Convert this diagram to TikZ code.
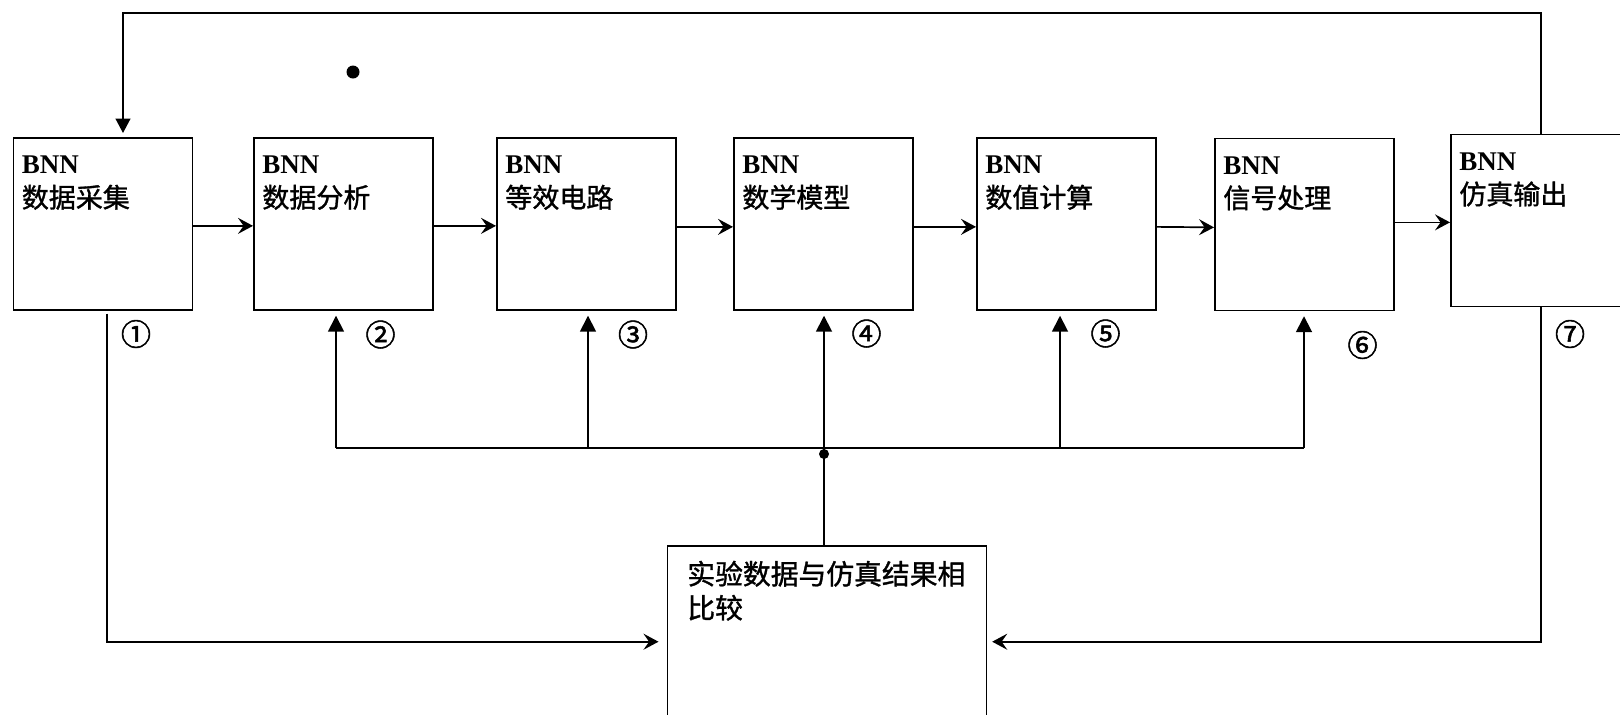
\documentclass[tikz,border=0pt]{standalone}
\usepackage{fontspec}
\setmainfont{Liberation Serif}
\newfontfamily\cjk[FakeBold=1.2]{Noto Sans CJK SC}
\newfontfamily\cjknum[FakeBold=1.8]{Noto Sans CJK SC}
\usetikzlibrary{arrows.meta}
\newcommand\bxt[3]{\parbox[c][#2][t]{#1}{\leftskip=4.25pt\rule{0pt}{17.85pt}#3}}
\newcommand\bxb[3]{\parbox[c][#2][t]{#1}{\leftskip=10pt\rule{0pt}{19.25pt}#3}}
\tikzset{
  ln/.style={line width=0.85pt},
  bx/.style={draw,line width=0.85pt,inner sep=0pt,anchor=north west,fill=white,
    font=\fontsize{13.5pt}{17pt}\selectfont},
  num/.style={inner sep=0pt,font=\cjknum\fontsize{15pt}{17pt}\selectfont},
  harr/.style={ln,-{Stealth[length=7.5pt,width=8pt,inset=2.8pt]}},
  uarr/.style={ln,-{Triangle[length=8pt,width=8pt]}},
  darr/.style={ln,-{Triangle[length=7.2pt,width=7.4pt]}},
  dotn/.style={circle,fill=black,inner sep=0pt},
}
\begin{document}
\begin{tikzpicture}[x=0.5pt,y=-0.5pt]
\useasboundingbox (0,0) rectangle (1620,714);
\fill[white] (0,0) rectangle (1620,714);

% boxes
\node[bx] (b1) at (12.5,137) {\bxt{89.5pt}{86pt}{\textbf{BNN}\\{\cjk 数据采集}}};
\node[bx] (b2) at (253,137) {\bxt{89.5pt}{86pt}{\textbf{BNN}\\{\cjk 数据分析}}};
\node[bx] (b3) at (496,137) {\bxt{89.5pt}{86pt}{\textbf{BNN}\\{\cjk 等效电路}}};
\node[bx] (b4) at (733,137) {\bxt{89.5pt}{86pt}{\textbf{BNN}\\{\cjk 数学模型}}};
\node[bx] (b5) at (976,137) {\bxt{89.5pt}{86pt}{\textbf{BNN}\\{\cjk 数值计算}}};
\node[bx] (b6) at (1214,137.5) {\bxt{89.5pt}{86pt}{\textbf{BNN}\\{\cjk 信号处理}}};
\node[bx] (b7) at (1450,133.7) {\bxt{89.5pt}{86pt}{\textbf{BNN}\\{\cjk 仿真输出}}};
\node[bx,font=\fontsize{13.9pt}{17pt}\selectfont] (b8) at (666.5,545) {\bxb{159.5pt}{125pt}{{\cjk 实验数据与仿真结果相}\\{\cjk 比较}}};

% circled numbers
\node[num] (n1) at (136,334) {①};
\node[num] (n2) at (380.5,334.5) {②};
\node[num] (n3) at (633,334.5) {③};
\node[num] (n4) at (866.5,333.5) {④};
\node[num] (n5) at (1105.5,333.5) {⑤};
\node[num] (n6) at (1362.5,345) {⑥};
\node[num] (n7) at (1570,334) {⑦};

% dots
\node[dotn,minimum size=6.5pt] (dt) at (353,72) {};

% forward arrows
\draw[harr] ([yshift=-1pt]b1.east) -- ([yshift=-1pt]b2.west);
\draw[harr] ([yshift=-1pt]b2.east) -- ([yshift=-1pt]b3.west);
\draw[harr] ([yshift=-1.5pt]b3.east) -- ([yshift=-1.5pt]b4.west);
\draw[harr] ([yshift=-1.5pt]b4.east) -- ([yshift=-1.5pt]b5.west);
\draw[harr] ([yshift=-1.5pt]b5.east) -- ([yshift=-1.5pt]b6.west);
\draw[harr] ([yshift=1pt]b6.east) -- ([yshift=1pt]b6.east -| b7.west);

% top feedback line
\coordinate (tr) at (1541,12.7);
\coordinate (tl) at (123,12.7);
\draw[darr,shorten >=2pt] (tr |- b7.north) -- (tr) -- (tl) -- (tl |- b1.north);

% bus
\coordinate (busL) at (336,448);
\coordinate (bus3) at (588,448);
\coordinate (jn) at (824,448);
\coordinate (bus5) at (1060,448);
\coordinate (busR) at (1304,448);
\draw[ln] (busL) -- (busR);
\draw[uarr,shorten >=2.5pt] (busL) -- (busL |- b2.south);
\draw[uarr,shorten >=2.5pt] (bus3) -- (bus3 |- b3.south);
\draw[uarr,shorten >=2.5pt] (jn) -- (jn |- b4.south);
\draw[uarr,shorten >=2.5pt] (bus5) -- (bus5 |- b5.south);
\draw[uarr,shorten >=2.5pt] (busR) -- (busR |- b6.south);
\draw[ln] (jn |- b8.north) -- (jn);
\node[dotn,minimum size=5pt] (jd) at (824,454) {};

% lower returns
\coordinate (pl) at (107,641.7);
\coordinate (pr) at (1541,641.7);
\draw[harr,shorten <=1.5pt,shorten >=4pt] (pl |- b1.south) -- (pl) -- (pl -| b8.west);
\draw[harr,shorten >=2.5pt] (pr |- b7.south) -- (pr) -- (pr -| b8.east);
\end{tikzpicture}
\end{document}
